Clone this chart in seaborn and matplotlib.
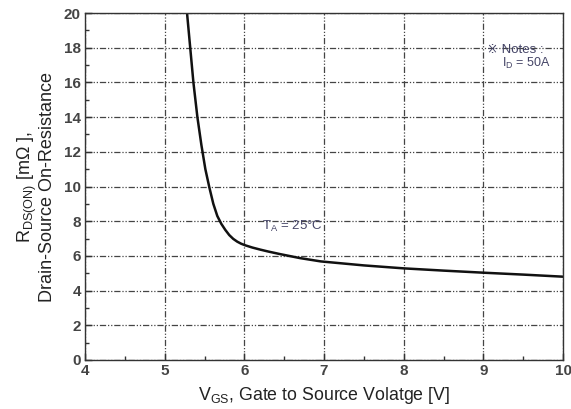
import matplotlib
matplotlib.use("Agg")
import matplotlib.pyplot as plt
import seaborn as sns
import pandas as pd
from matplotlib.ticker import MultipleLocator

sns.set_theme(style="white")
plt.rcParams['font.family'] = ['Liberation Sans', 'DejaVu Sans']
plt.rcParams['mathtext.fontset'] = 'custom'
plt.rcParams['mathtext.rm'] = 'Liberation Sans'
plt.rcParams['mathtext.it'] = 'Liberation Sans'

# curve
vgs = [5.28, 5.32, 5.36, 5.41, 5.46, 5.51, 5.56, 5.61, 5.66, 5.71, 5.76, 5.81, 5.86, 5.91, 5.96,
       6.01, 6.1, 6.2, 6.3, 6.45, 6.7, 6.96, 7.5, 8.0, 8.5, 9.0, 9.5, 10.0]
rds = [20.0, 18.0, 16.0, 14.0, 12.4, 11.0, 9.95, 9.0, 8.3, 7.85, 7.5, 7.2, 6.98, 6.82, 6.7,
       6.61, 6.48, 6.36, 6.25, 6.1, 5.87, 5.68, 5.45, 5.28, 5.15, 5.03, 4.92, 4.8]

df = pd.DataFrame({"vgs": vgs, "rds": rds})

fig, ax = plt.subplots(figsize=(5.71, 4.09), dpi=100)
fig.subplots_adjust(left=0.149, right=0.986, top=0.968, bottom=0.12)

sns.lineplot(data=df, x="vgs", y="rds", ax=ax, color="#111111", linewidth=1.8, sort=False)
ax.lines[0].set_solid_joinstyle("round")

ax.set_xlim(4, 10)
ax.set_ylim(0, 20)
ax.xaxis.set_major_locator(MultipleLocator(1))
ax.xaxis.set_minor_locator(MultipleLocator(0.5))
ax.yaxis.set_major_locator(MultipleLocator(2))
ax.yaxis.set_minor_locator(MultipleLocator(1))

gridstyle = (0, (5, 1.5, 1, 1.5, 1, 1.5))
ax.grid(True, which="major", color="#444444", linewidth=0.9, linestyle=gridstyle)

for s in ax.spines.values():
    s.set_visible(True)
    s.set_color("#333333")
    s.set_linewidth(1.0)

ax.tick_params(axis="both", which="major", direction="in", length=5, width=1,
               color="#333333", labelsize=11, labelcolor="#444444", pad=3,
               bottom=True, left=True)
ax.tick_params(axis="both", which="minor", direction="in", length=3, width=1,
               color="#333333", bottom=True, left=True)
for lbl in ax.get_xticklabels() + ax.get_yticklabels():
    lbl.set_fontweight("bold")

ax.set_xlabel("V$_{GS}$, Gate to Source Volatge [V]", fontsize=12.8, color="#222222", labelpad=5)
ax.set_ylabel("R$_{DS(ON)}$ [mΩ ],\nDrain-Source On-Resistance", fontsize=13,
              color="#222222", labelpad=6, linespacing=1.0)

ax.text(6.22, 7.72, "T$_A$ = 25°C", fontsize=9.5, color="#444466", va="center")
ax.text(9.05, 17.9, "※ Notes :", fontsize=9.5, color="#444466", va="center")
ax.text(9.24, 17.1, "I$_D$ = 50A", fontsize=9, color="#444466", va="center")

plt.savefig("out.png", dpi=100)
